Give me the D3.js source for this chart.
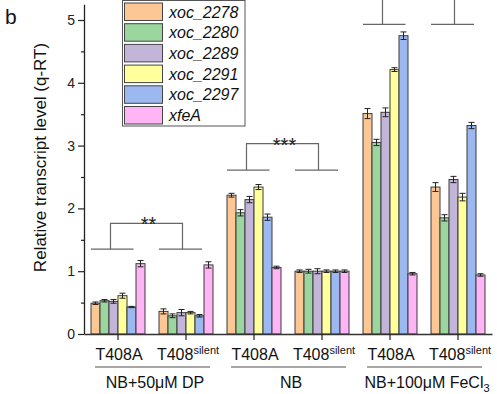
<!DOCTYPE html>
<html>
<head>
<meta charset="utf-8">
<script src="https://cdn.jsdelivr.net/npm/d3@7"></script>
<style>
  html, body { margin: 0; padding: 0; background: #fff; }
  svg { display: block; font-family: Arial, "Liberation Sans", sans-serif; }
</style>
</head>
<body>
<svg id="chart" width="497" height="394"></svg>
<script>
// Sample groups: two strains under three growth conditions
const conditions = ["NB+50μM DP", "NB", "NB+100μM FeCl"];
const strains = ["T408A", "T408"];
const groups = ["DP-T408A", "DP-T408s", "NB-T408A", "NB-T408s", "Fe-T408A", "Fe-T408s"];

// Genes (legend order) and fill colours
const genes = ["xoc_2278", "xoc_2280", "xoc_2289", "xoc_2291", "xoc_2297", "xfeA"];
const geneColors = ["#FCC795", "#9AD69D", "#C3B4D9", "#FFFF9C", "#9BB8F0", "#FFB4F6"];

// Relative transcript level per gene, one value per group
const xoc_2278 = [0.49, 0.36, 2.21, 1.00, 3.51, 2.34];
const xoc_2280 = [0.53, 0.29, 1.93, 1.00, 3.05, 1.85];
const xoc_2289 = [0.52, 0.34, 2.14, 1.00, 3.53, 2.46];
const xoc_2291 = [0.61, 0.34, 2.34, 1.00, 4.21, 2.18];
const xoc_2297 = [0.43, 0.29, 1.86, 1.00, 4.75, 3.32];
const xfeA     = [1.12, 1.10, 1.06, 1.00, 0.96, 0.94];

// Standard deviations
const err_2278 = [0.02, 0.04, 0.03, 0.02, 0.08, 0.07];
const err_2280 = [0.02, 0.03, 0.05, 0.03, 0.05, 0.05];
const err_2289 = [0.03, 0.05, 0.05, 0.04, 0.07, 0.05];
const err_2291 = [0.04, 0.02, 0.04, 0.02, 0.03, 0.06];
const err_2297 = [0.01, 0.02, 0.05, 0.02, 0.06, 0.05];
const err_xfeA = [0.05, 0.05, 0.02, 0.02, 0.02, 0.02];

// Y axis ticks
const yTicks = [0, 1, 2, 3, 4, 5];
const yMinorTicks = [0.5, 1.5, 2.5, 3.5, 4.5];

// Significance brackets between strains within a condition
const sigA = [0, 2, 4];
const sigB = [1, 3, 5];
const sigBase = [1.35, 2.61, 4.93];
const sigTop = [1.76, 3.03, 5.42];
const sigLabel = ["**", "***", ""];

const values = [xoc_2278, xoc_2280, xoc_2289, xoc_2291, xoc_2297, xfeA];
const errors = [err_2278, err_2280, err_2289, err_2291, err_2297, err_xfeA];

const rows = [];
genes.forEach((g, gi) => groups.forEach((grp, i) => {
  rows.push({ gene: g, group: grp, value: values[gi][i], err: errors[gi][i], color: geneColors[gi] });
}));

const svg = d3.select("#chart");
const axisLeft = 84, axisRight = 492, y0px = 334;

const x = d3.scaleBand().domain(groups).range([axisLeft, axisRight]).paddingInner(0).paddingOuter(0);
const xInner = d3.scaleBand().domain(genes).range([7, x.bandwidth() - 7]).padding(0);
const y = d3.scaleLinear().domain([0, 5.25]).range([y0px, y0px - 5.25 * 62.8]);

// Bars
const g = svg.append("g");
g.selectAll("rect.bar").data(rows).join("rect")
  .attr("class", "bar")
  .attr("x", d => x(d.group) + xInner(d.gene))
  .attr("y", d => y(d.value))
  .attr("width", xInner.bandwidth())
  .attr("height", d => y(0) - y(d.value))
  .attr("fill", d => d.color)
  .attr("stroke", "#3a3a3a")
  .attr("stroke-width", 1);

// Error bars
const cap = 3;
const cxOf = d => x(d.group) + xInner(d.gene) + xInner.bandwidth() / 2;
const eb = g.selectAll("g.err").data(rows).join("g").attr("class", "err")
  .attr("stroke", "#222").attr("stroke-width", 1);
eb.append("line")
  .attr("x1", cxOf).attr("x2", cxOf)
  .attr("y1", d => y(d.value - d.err)).attr("y2", d => y(d.value + d.err));
eb.append("line")
  .attr("x1", d => cxOf(d) - cap).attr("x2", d => cxOf(d) + cap)
  .attr("y1", d => y(d.value + d.err)).attr("y2", d => y(d.value + d.err));
eb.append("line")
  .attr("x1", d => cxOf(d) - cap).attr("x2", d => cxOf(d) + cap)
  .attr("y1", d => y(d.value - d.err)).attr("y2", d => y(d.value - d.err));

// Y axis
const yAxis = d3.axisLeft(y).tickValues(yTicks).tickSize(6).tickPadding(3).tickSizeOuter(0)
  .tickFormat(d3.format("d"));
const ya = svg.append("g").attr("transform", `translate(${axisLeft},0)`).call(yAxis);
ya.select(".domain").attr("stroke", "#222").attr("stroke-width", 1.3);
ya.selectAll(".tick line").attr("stroke", "#222").attr("stroke-width", 1.2);
ya.selectAll(".tick text").attr("font-size", 14).attr("fill", "#222")
  .attr("font-family", "Arial, 'Liberation Sans', sans-serif");
svg.append("g").attr("transform", `translate(${axisLeft},0)`)
  .call(d3.axisLeft(y).tickValues(yMinorTicks).tickSize(3).tickFormat("").tickSizeOuter(0))
  .call(s => s.select(".domain").remove())
  .selectAll("line").attr("stroke", "#222").attr("stroke-width", 1.2);

// X axis
const xAxis = d3.axisBottom(x).tickSize(6).tickFormat("").tickSizeOuter(0);
const xa = svg.append("g").attr("transform", `translate(0,${y0px})`).call(xAxis);
xa.select(".domain").attr("stroke", "#333").attr("stroke-width", 1.5);
xa.selectAll(".tick line").attr("stroke", "#222").attr("stroke-width", 1.2);

// Strain labels under each group
groups.forEach((grp, i) => {
  const cx = x(grp) + x.bandwidth() / 2;
  const t = svg.append("text").attr("x", cx + (i % 2 ? 2 : 1)).attr("y", 360)
    .attr("text-anchor", "middle").attr("font-size", 16).attr("fill", "#111");
  t.append("tspan").text(strains[i % 2]);
  if (i % 2) {
    t.append("tspan").attr("font-size", 11).attr("dy", -6).text("silent");
  }
});

// Condition underlines and labels
conditions.forEach((c, k) => {
  const a = x(groups[2 * k]) + x.bandwidth() / 2;
  const b = x(groups[2 * k + 1]) + x.bandwidth() / 2;
  svg.append("line").attr("x1", a - 23).attr("x2", b + 24).attr("y1", 367).attr("y2", 367)
    .attr("stroke", "#888").attr("stroke-width", 1.5);
  const t = svg.append("text").attr("x", (a + b) / 2 + 3).attr("y", 388)
    .attr("text-anchor", "middle").attr("font-size", 16).attr("fill", "#111");
  t.append("tspan").text(c);
  if (k === 2) t.append("tspan").attr("font-size", 11).attr("dy", 4).text("3");
});

// Significance brackets
sigA.forEach((ia, k) => {
  const ca = x(groups[ia]) + x.bandwidth() / 2;
  const cb = x(groups[sigB[k]]) + x.bandwidth() / 2;
  const yb = y(sigBase[k]), yt = y(sigTop[k]);
  const va = ca - 7.5, vb = cb - 3.5;
  const br = svg.append("g").attr("stroke", "#666").attr("stroke-width", 1.2).attr("fill", "none");
  br.append("line").attr("x1", ca - 27).attr("x2", ca + 15.5).attr("y1", yb).attr("y2", yb);
  br.append("line").attr("x1", cb - 27).attr("x2", cb + 16).attr("y1", yb).attr("y2", yb);
  br.append("polyline").attr("points", `${va},${yb} ${va},${yt} ${vb},${yt} ${vb},${yb}`);
  if (sigLabel[k]) {
    svg.append("text").attr("x", (va + vb) / 2 + 2).attr("y", yt + 8)
      .attr("text-anchor", "middle").attr("font-size", 20).attr("fill", "#222").text(sigLabel[k]);
  }
});

// Y axis title and panel letter
svg.append("text").attr("transform", "translate(46,157.5) rotate(-90)")
  .attr("text-anchor", "middle").attr("font-size", 17).attr("fill", "#111")
  .text("Relative transcript level (q-RT)");
svg.append("text").attr("x", 5).attr("y", 24).attr("font-size", 21).attr("fill", "#111").text("b");

// Legend
const lg = svg.append("g");
lg.append("rect").attr("x", 122.5).attr("y", 0.5).attr("width", 122.5).attr("height", 125.5)
  .attr("fill", "#fff").attr("stroke", "#555").attr("stroke-width", 1);
const li = lg.selectAll("g.item").data(genes).join("g").attr("class", "item")
  .attr("transform", (d, i) => `translate(124.5,${3 + i * 20.7})`);
li.append("rect").attr("width", 38).attr("height", 17.5)
  .attr("fill", (d, i) => geneColors[i]).attr("stroke", "#444").attr("stroke-width", 1);
li.append("text").attr("x", 44.5).attr("y", 14.5).attr("font-size", 16).attr("font-style", "italic")
  .attr("fill", "#111").text(d => d);
</script>
</body>
</html>
